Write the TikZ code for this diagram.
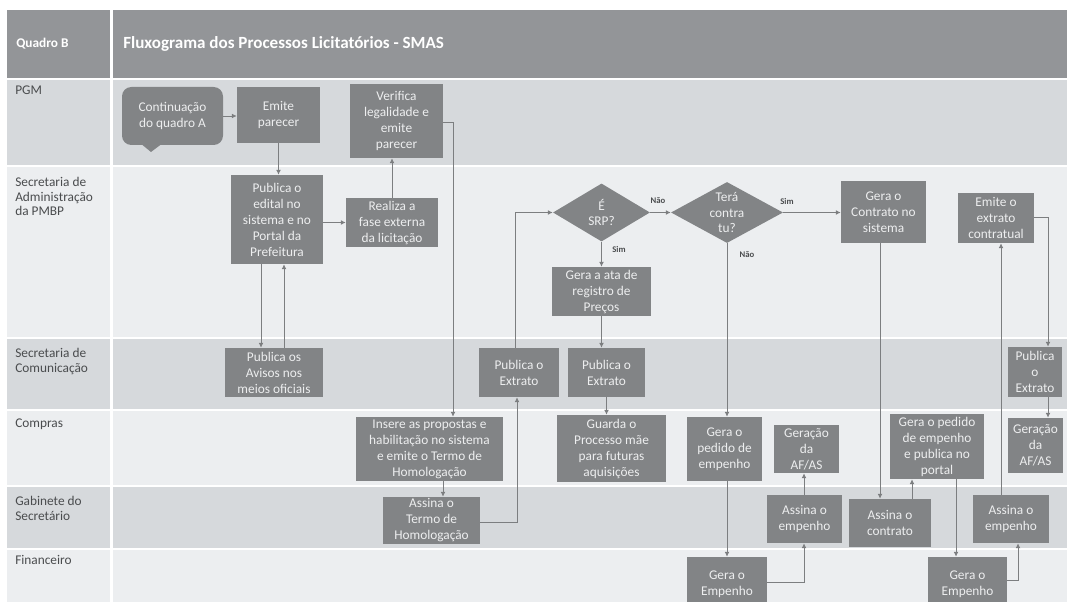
\documentclass[tikz,border=0pt]{standalone}
\usepackage{fontspec}
\setmainfont{Carlito}
\usetikzlibrary{shapes.geometric,arrows.meta}

\definecolor{headgray}{HTML}{939598}
\definecolor{lanemid}{HTML}{D6D9DC}
\definecolor{lanepale}{HTML}{ECEEF0}
\definecolor{stepfill}{HTML}{828486}
\definecolor{steptext}{HTML}{EDEEEF}
\definecolor{lanetext}{HTML}{4A4C4E}
\definecolor{wire}{HTML}{7C7E80}

\tikzset{
  stepbox/.style={fill=stepfill, text=steptext, align=center, inner sep=0pt,
    font=\fontsize{10}{12}\selectfont},
  decision/.style={diamond, fill=stepfill, inner sep=0pt},
  decisiontext/.style={text=steptext, align=center, inner sep=0pt,
    font=\fontsize{10}{11.6}\selectfont},
  flow/.style={draw=wire, line width=0.7pt, -{Latex[length=3.6pt,width=3.6pt]}},
  lanelabel/.style={anchor=north west, align=left, text=lanetext, inner sep=0pt,
    font=\fontsize{10}{11}\selectfont},
  answer/.style={text=lanetext, inner sep=0pt, font=\fontsize{6.5}{7}\selectfont\bfseries},
  headtext/.style={anchor=west, text=white, inner sep=0pt}
}

% process box given by its corners (x1,y1)-(x2,y2) in pixel units
\newcommand{\stepnode}[6]{%
  \node[stepbox, minimum width={(#4-#2)*0.75pt}, minimum height={(#5-#3)*0.75pt}]
    (#1) at ({(#2+#4)/2},{(#3+#5)/2}) {#6};}

\begin{document}
\begin{tikzpicture}[x=0.75pt,y=-0.75pt]
\useasboundingbox (0,0) rectangle (1067,602);
\clip (0,0) rectangle (1067,602);
\fill[white] (0,0) rectangle (1067,602);

% header band
\fill[headgray] (7,10) rectangle (110,78);
\fill[headgray] (113,10) rectangle (1067,78);

% swimlanes: label column and body
\foreach \ytop/\ybot/\shade in {80/165/lanemid, 167/337/lanepale, 339/409/lanemid,
                                411/485/lanepale, 487/548/lanemid, 550/610/lanepale}{
  \fill[\shade] (7,\ytop) rectangle (110,\ybot);
  \fill[\shade] (113,\ytop) rectangle (1067,\ybot);
}

% header texts
\node[headtext, font=\fontsize{10}{12}\selectfont\bfseries] (quadro) at (16,44) {Quadro B};
\node[headtext, font=\fontsize{12.8}{15}\selectfont\bfseries] (title) at (123,44)
  {Fluxograma dos Processos Licitatórios - SMAS};

% lane names
\node[lanelabel] (lanePGM) at (15,86) {PGM};
\node[lanelabel] (laneAdm) at (15,177) {Secretaria de\\Administração\\da PMBP};
\node[lanelabel] (laneCom) at (15,348) {Secretaria de\\Comunicação};
\node[lanelabel] (laneCompras) at (15,419) {Compras};
\node[lanelabel] (laneGab) at (15,496) {Gabinete do\\Secretário};
\node[lanelabel] (laneFin) at (15,555) {Financeiro};

% PGM
\node[stepbox, rounded corners=7pt, minimum width={101*0.75pt}, minimum height={58*0.75pt}]
  (cont) at (172.5,116) {Continuação\\do quadro A};
\fill[stepfill] (140,143) -- (163,143) -- (151,152) -- cycle;
\stepnode{emite}{237}{87}{320}{143}{Emite\\parecer}
\stepnode{verif}{350}{84}{443}{158}{Verifica\\legalidade e\\emite\\parecer}

% Secretaria de Administracao
\stepnode{edital}{231}{175}{323}{264}{Publica o\\edital no\\sistema e no\\Portal da\\Prefeitura}
\stepnode{realiza}{346}{198}{438}{247}{Realiza a\\fase externa\\da licitação}
\node[decision, minimum width={97*0.75pt}, minimum height={58*0.75pt}] (srp) at (601.5,212.5) {};
\node[decisiontext] (srpText) at (srp) {É\\SRP?};
\node[decision, minimum width={112*0.75pt}, minimum height={61*0.75pt}] (tera) at (727,212.5) {};
\node[decisiontext] (teraText) at (tera) {Terá\\contra\\tu?};
\stepnode{contrato}{841}{181}{926}{243}{Gera o\\Contrato no\\sistema}
\stepnode{emitext}{958}{193}{1034}{243}{Emite o\\extrato\\contratual}
\stepnode{ata}{552}{267}{651}{316}{Gera a ata de\\registro de\\Preços}

% Secretaria de Comunicacao
\stepnode{avisos}{225}{348}{323}{397}{Publica os\\Avisos nos\\meios oficiais}
\stepnode{extratoL}{479}{348}{559}{397}{Publica o\\Extrato}
\stepnode{extratoM}{568}{348}{645}{397}{Publica o\\Extrato}
\stepnode{extratoR}{1008}{347}{1062}{397}{Publica\\o\\Extrato}

% Compras
\stepnode{insere}{356}{417}{503}{481}{Insere as propostas e\\habilitação no sistema\\e emite o Termo de\\Homologação}
\stepnode{guarda}{557}{415}{666}{482}{Guarda o\\Processo  mãe\\para futuras\\aquisições}
\stepnode{pedido1}{687}{417}{762}{481}{Gera o\\pedido de\\empenho}
\stepnode{afas1}{774}{425}{839}{473}{Geração\\da\\AF/AS}
\stepnode{pedido2}{890}{414}{984}{479}{Gera o pedido\\de empenho\\e publica no\\portal}
\stepnode{afas2}{1008}{418}{1063}{473}{Geração\\da\\AF/AS}

% Gabinete do Secretario
\stepnode{termo}{383}{497}{480}{544}{Assina o\\Termo de\\Homologação}
\stepnode{assina1}{767}{495}{842}{543}{Assina o\\empenho}
\stepnode{assinaC}{849}{499}{931}{547}{Assina o\\contrato}
\stepnode{assina2}{973}{495}{1049}{543}{Assina o\\empenho}

% Financeiro
\stepnode{empenho1}{687}{557}{767}{611}{Gera o\\Empenho}
\stepnode{empenho2}{928}{557}{1007}{611}{Gera o\\Empenho}

% answers on the decisions
\node[answer] (naoSrp) at (658,201) {Não};
\node[answer] (simTera) at (787,201) {Sim};
\node[answer] (simSrp) at (619,249) {Sim};
\node[answer] (naoTera) at (747,255) {Não};

% routing guides
\coordinate (vbend) at (453,122);
\coordinate (gEdDown) at (261,0);
\coordinate (gEdUp) at (284,0);
\coordinate (gIns) at (443,0);
\coordinate (tbend) at (517,522);
\coordinate (sbend) at (515,212.5);
\coordinate (gPed) at (727,0);
\coordinate (e1bend) at (804,582);
\coordinate (gCon) at (880,0);
\coordinate (gAsC) at (912,0);
\coordinate (gPed2) at (956,0);
\coordinate (e2bend) at (1018,580);
\coordinate (gAs2) at (1001,0);
\coordinate (xbend) at (1048,217);

% connectors
\draw[flow] (cont.east) -- (cont.east -| emite.west);
\draw[flow] (emite.south) -- (emite.south |- edital.north);
\draw[flow] (edital.east |- realiza.west) -- (realiza.west);
\draw[flow] (realiza.north) -- (realiza.north |- verif.south);
\draw[flow] (verif.east |- vbend) -- (vbend) -- (vbend |- insere.north);
\draw[flow] (edital.south -| gEdDown) -- (avisos.north -| gEdDown);
\draw[flow] (avisos.north -| gEdUp) -- (edital.south -| gEdUp);
\draw[flow] (insere.south -| gIns) -- (termo.north -| gIns);
\draw[flow] (termo.east |- tbend) -- (tbend) -- (tbend |- extratoL.south);
\draw[flow] (extratoL.north -| sbend) -- (sbend) -- (srp.west);
\draw[flow] (srp.east) -- (tera.west);
\draw[flow] (tera.east) -- (tera.east -| contrato.west);
\draw[flow] (srp.south) -- (srp.south |- ata.north);
\draw[flow] (ata.south) -- (ata.south |- extratoM.north);
\draw[flow] (extratoM.south) -- (extratoM.south |- guarda.north);
\draw[flow] (tera.south) -- (tera.south |- pedido1.north);
\draw[flow] (pedido1.south -| gPed) -- (empenho1.north -| gPed);
\draw[flow] (empenho1.east |- e1bend) -- (e1bend) -- (e1bend |- assina1.south);
\draw[flow] (assina1.north -| e1bend) -- (afas1.south -| e1bend);
\draw[flow] (contrato.south -| gCon) -- (assinaC.north -| gCon);
\draw[flow] (assinaC.north -| gAsC) -- (pedido2.south -| gAsC);
\draw[flow] (pedido2.south -| gPed2) -- (empenho2.north -| gPed2);
\draw[flow] (empenho2.east |- e2bend) -- (e2bend) -- (e2bend |- assina2.south);
\draw[flow] (assina2.north -| gAs2) -- (emitext.south -| gAs2);
\draw[flow] (emitext.east |- xbend) -- (xbend) -- (xbend |- extratoR.north);
\draw[flow] (extratoR.south -| xbend) -- (afas2.north -| xbend);
\end{tikzpicture}
\end{document}
